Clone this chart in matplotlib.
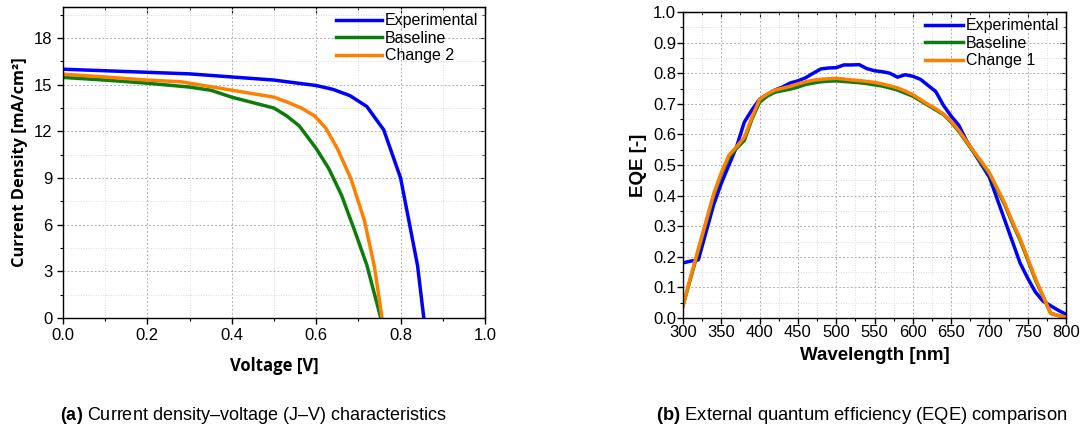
import matplotlib
matplotlib.use("Agg")
import matplotlib.pyplot as plt
from matplotlib.ticker import MultipleLocator, FormatStrFormatter

plt.rcParams['font.family'] = ['Liberation Sans', 'DejaVu Sans']
plt.rcParams['mathtext.fontset'] = 'custom'
plt.rcParams['mathtext.rm'] = 'Liberation Sans'
plt.rcParams['mathtext.bf'] = 'Liberation Sans:bold'

# ---- J-V data ----
v_exp = [0.0, 0.1, 0.2, 0.3, 0.4, 0.5, 0.6, 0.64, 0.68, 0.72, 0.76, 0.80, 0.84, 0.855]
j_exp = [16.0, 15.9, 15.8, 15.7, 15.5, 15.3, 14.95, 14.7, 14.3, 13.6, 12.1, 9.0, 3.4, 0.0]

v_base = [0.0, 0.1, 0.2, 0.3, 0.35, 0.4, 0.45, 0.5, 0.53, 0.56, 0.6, 0.63, 0.66, 0.69, 0.72, 0.753]
j_base = [15.47, 15.3, 15.1, 14.85, 14.65, 14.2, 13.85, 13.5, 13.0, 12.35, 10.9, 9.6, 7.9, 5.7, 3.4, 0.0]

v_ch2 = [0.0, 0.1, 0.2, 0.28, 0.4, 0.5, 0.53, 0.565, 0.596, 0.623, 0.65, 0.682, 0.714, 0.738, 0.756]
j_ch2 = [15.68, 15.5, 15.3, 15.19, 14.65, 14.2, 13.9, 13.5, 13.0, 12.2, 10.9, 8.98, 6.3, 3.3, 0.0]

# ---- EQE data ----
wl = list(range(300, 801, 10))
eqe_exp = [0.18, 0.186, 0.19, 0.28, 0.37, 0.44, 0.50, 0.56, 0.64, 0.68, 0.715,
           0.73, 0.745, 0.755, 0.768, 0.775, 0.785, 0.80, 0.814, 0.817, 0.818,
           0.827, 0.827, 0.828, 0.815, 0.808, 0.805, 0.80, 0.787, 0.795, 0.79,
           0.78, 0.76, 0.74, 0.695, 0.66, 0.63, 0.58, 0.54, 0.50, 0.46,
           0.39, 0.32, 0.25, 0.18, 0.13, 0.085, 0.055, 0.04, 0.025, 0.012]
eqe_base = [0.04, 0.13, 0.22, 0.31, 0.40, 0.47, 0.525, 0.555, 0.58, 0.65, 0.705,
            0.725, 0.738, 0.743, 0.748, 0.755, 0.763, 0.768, 0.772, 0.774, 0.775,
            0.773, 0.771, 0.769, 0.766, 0.762, 0.758, 0.752, 0.745, 0.735, 0.725,
            0.71, 0.695, 0.68, 0.665, 0.64, 0.61, 0.575, 0.54, 0.505, 0.47,
            0.42, 0.37, 0.31, 0.255, 0.19, 0.125, 0.07, 0.015, 0.008, 0.003]
eqe_ch1 = [0.04, 0.135, 0.225, 0.315, 0.405, 0.475, 0.532, 0.56, 0.59, 0.655, 0.715,
           0.732, 0.745, 0.751, 0.757, 0.765, 0.772, 0.777, 0.78, 0.782, 0.783,
           0.781, 0.778, 0.776, 0.773, 0.77, 0.765, 0.759, 0.752, 0.742, 0.73,
           0.714, 0.698, 0.684, 0.667, 0.643, 0.613, 0.578, 0.543, 0.51, 0.475,
           0.425, 0.375, 0.315, 0.26, 0.195, 0.13, 0.072, 0.015, 0.008, 0.003]

jv_yticks = [0, 3, 6, 9, 12, 15, 18]

C_EXP = '#0000ff'
C_BASE = '#0a7d0a'
C_CH = '#ff8000'

fig = plt.figure(figsize=(10.82, 4.30), dpi=100)
ax1 = fig.add_axes([63/1082, 1-318/430, (485-63)/1082, (318-7)/430])
ax2 = fig.add_axes([683/1082, 1-318/430, (1066-683)/1082, (318-12)/430])

def style(ax, xmajor, xminor, ymajor, yminor, lsize):
    ax.xaxis.set_major_locator(MultipleLocator(xmajor))
    ax.xaxis.set_minor_locator(MultipleLocator(xminor))
    ax.yaxis.set_major_locator(MultipleLocator(ymajor))
    ax.yaxis.set_minor_locator(MultipleLocator(yminor))
    ax.grid(True, which='major', linestyle=(0, (2, 2)), color='#b0b0b0', linewidth=0.7)
    ax.grid(True, which='minor', linestyle=(0, (1, 2)), color='#d0d0d0', linewidth=0.6)
    ax.set_axisbelow(True)
    ax.tick_params(axis='both', which='major', labelsize=lsize, length=4, width=1.0, direction='out')
    ax.tick_params(axis='both', which='minor', length=2.5, width=0.8, direction='out')
    for s in ax.spines.values():
        s.set_linewidth(1.0)
    sec_y = ax.secondary_yaxis('right')
    sec_y.yaxis.set_major_locator(MultipleLocator(ymajor))
    sec_y.yaxis.set_minor_locator(MultipleLocator(yminor))
    sec_y.tick_params(which='both', direction='in', labelright=False)
    sec_y.tick_params(which='major', length=4)
    sec_y.tick_params(which='minor', length=2.5)
    sec_x = ax.secondary_xaxis('top')
    sec_x.xaxis.set_major_locator(MultipleLocator(xmajor))
    sec_x.xaxis.set_minor_locator(MultipleLocator(xminor))
    sec_x.tick_params(which='both', direction='in', labeltop=False)
    sec_x.tick_params(which='major', length=4)
    sec_x.tick_params(which='minor', length=2.5)

lw = 2.5
ax1.plot(v_exp, j_exp, color=C_EXP, lw=lw, label='Experimental')
ax1.plot(v_base, j_base, color=C_BASE, lw=lw, label='Baseline')
ax1.plot(v_ch2, j_ch2, color=C_CH, lw=lw, label='Change 2')
ax1.set_xlim(0, 1.0)
ax1.set_ylim(0, 20)
style(ax1, 0.2, 0.1, 3, 1.5, 12)
ax1.set_yticks(jv_yticks)
ax1.xaxis.set_major_formatter(FormatStrFormatter('%.1f'))
ax1.set_xlabel('Voltage [V]', fontsize=12, fontweight='bold',
               family=['Open Sans', 'DejaVu Sans'], labelpad=10)
ax1.set_ylabel('Current Density [mA/cm²]', fontsize=11.8, fontweight='bold',
               family=['Open Sans', 'DejaVu Sans'], labelpad=4)
ax1.legend(loc='upper right', frameon=False, fontsize=11.5, handlelength=2.9,
           handletextpad=0.2, labelspacing=0.15, borderaxespad=0.0,
           bbox_to_anchor=(1.0, 1.0))

ax2.plot(wl, eqe_exp, color=C_EXP, lw=lw, label='Experimental')
ax2.plot(wl, eqe_base, color=C_BASE, lw=lw, label='Baseline')
ax2.plot(wl, eqe_ch1, color=C_CH, lw=lw, label='Change 1')
ax2.set_xlim(300, 800)
ax2.set_ylim(0, 1.0)
style(ax2, 50, 25, 0.1, 0.05, 12)
ax2.yaxis.set_major_formatter(FormatStrFormatter('%.1f'))
ax2.tick_params(axis='x', which='major', pad=1)
ax2.tick_params(axis='y', which='major', pad=1)
ax2.set_xlabel('Wavelength [nm]', fontsize=13.5, fontweight='bold', labelpad=5)
ax2.set_ylabel('EQE [-]', fontsize=13.5, fontweight='bold', labelpad=4)
ax2.legend(loc='upper right', frameon=False, fontsize=11.5, handlelength=2.4,
           handletextpad=0.2, labelspacing=0.15, borderaxespad=0.0,
           bbox_to_anchor=(1.0, 1.0))

fig.text(253/1082, 1-415/430, r'$\mathbf{(a)}$ Current density–voltage (J–V) characteristics',
         ha='center', va='center', fontsize=13)
fig.text(862/1082, 1-415/430, r'$\mathbf{(b)}$ External quantum efficiency (EQE) comparison',
         ha='center', va='center', fontsize=13.2)

fig.savefig('out.png', dpi=100)
